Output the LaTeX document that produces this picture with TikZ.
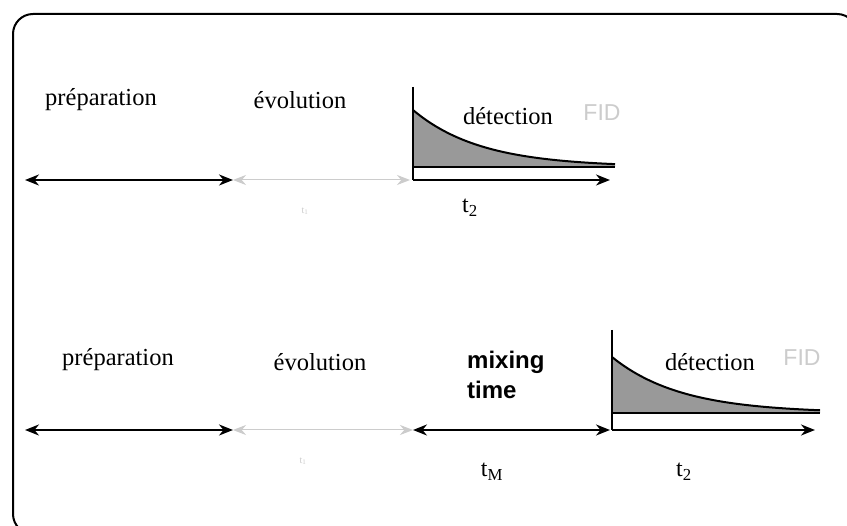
\documentclass[tikz,border=0pt]{standalone}
\usepackage{fontspec}
\setmainfont{Liberation Serif}
\newfontfamily\arialfont{Liberation Sans}
\usetikzlibrary{arrows.meta}
\definecolor{lightgr}{gray}{0.80}
\definecolor{fidfill}{gray}{0.60}
\tikzset{
  lbl/.style={font=\fontsize{24.5}{26}\selectfont, inner sep=0pt},
  tlbl/.style={font=\fontsize{24}{26}\selectfont, inner sep=0pt},
  faint/.style={font=\fontsize{10}{11}\selectfont, text=lightgr, inner sep=0pt},
  mixlbl/.style={font=\arialfont\bfseries\fontsize{24}{30}\selectfont, align=left, inner sep=0pt},
  fidlbl/.style={font=\arialfont\fontsize{23}{24}\selectfont, text=lightgr, inner sep=0pt},
  darr/.style={line width=2pt, {Stealth[length=14pt,width=11pt]}-{Stealth[length=14pt,width=11pt]}},
  garr/.style={line width=1pt, draw=lightgr, {Stealth[length=13pt,width=10pt]}-{Stealth[length=13pt,width=10pt]}},
  rarr/.style={line width=2pt, -{Stealth[length=14pt,width=11pt]}},
  axisline/.style={line width=2pt},
  frameline/.style={line width=2pt, rounded corners=20pt}
}
\begin{document}
\begin{tikzpicture}[x=1pt,y=-1pt]
\clip (0,0) rectangle (847,526);
\fill[white] (0,0) rectangle (847,526);
% frame
\draw[frameline] (13,14) rectangle (857,534);

% ---------- top row ----------
\node[lbl] (prepA) at (101,100) {préparation};
\node[lbl] (evolA) at (300,100) {évolution};
\coordinate (a0) at (25,180);
\coordinate (a1) at (233,180);
\coordinate (a2) at (410,180);
\draw[darr] (a0) -- (a1);
\draw[garr] (a1) -- (a2);
\node[faint] (t1A) at (305,211) {t\textsubscript{1}};
% FID top
\coordinate (oA) at (413,167);
\coordinate (topA) at (413,87);
\coordinate (endA) at (615,167);
\coordinate (axA0) at (413,180);
\coordinate (axA1) at (610,180);
\fill[fidfill] (oA) -- plot[domain=0:202, samples=60] ({413+\x},{167-57*exp(-0.0148*\x)}) -- (endA) -- cycle;
\draw[line width=2pt] plot[domain=0:202, samples=60] ({413+\x},{167-57*exp(-0.0148*\x)});
\draw[axisline] (oA) -- (endA);
\draw[axisline] (topA) -- (axA0);
\draw[rarr] (axA0) -- (axA1);
\node[lbl] (detA) at (508,116) {détection};
\node[fidlbl] (fidA) at (602,113) {FID};
\node[tlbl] (t2A) at (470,208) {t\textsubscript{2}};

% ---------- bottom row ----------
\node[lbl] (prepB) at (118,360) {préparation};
\node[lbl] (evolB) at (320,362) {évolution};
\node[mixlbl, anchor=west] (mix) at (467,375) {mixing\\time};
\coordinate (b0) at (25,430);
\coordinate (b1) at (233,430);
\coordinate (b2) at (413,430);
\coordinate (b3) at (610,430);
\draw[darr] (b0) -- (b1);
\draw[garr] (b1) -- (b2);
\draw[darr] (b2) -- (b3);
\node[faint] (t1B) at (303,461) {t\textsubscript{1}};
% FID bottom
\coordinate (oB) at (612,413);
\coordinate (topB) at (612,330);
\coordinate (endB) at (820,413);
\coordinate (axB0) at (612,430);
\coordinate (axB1) at (815,430);
\fill[fidfill] (oB) -- plot[domain=0:208, samples=60] ({612+\x},{413-56*exp(-0.0145*\x)}) -- (endB) -- cycle;
\draw[line width=2pt] plot[domain=0:208, samples=60] ({612+\x},{413-56*exp(-0.0145*\x)});
\draw[axisline] (oB) -- (endB);
\draw[axisline] (topB) -- (axB0);
\draw[rarr] (axB0) -- (axB1);
\node[lbl] (detB) at (710,362) {détection};
\node[fidlbl] (fidB) at (802,358) {FID};
\node[tlbl] (tM) at (492,472) {t\textsubscript{M}};
\node[tlbl] (t2B) at (684,472) {t\textsubscript{2}};
\end{tikzpicture}
\end{document}
